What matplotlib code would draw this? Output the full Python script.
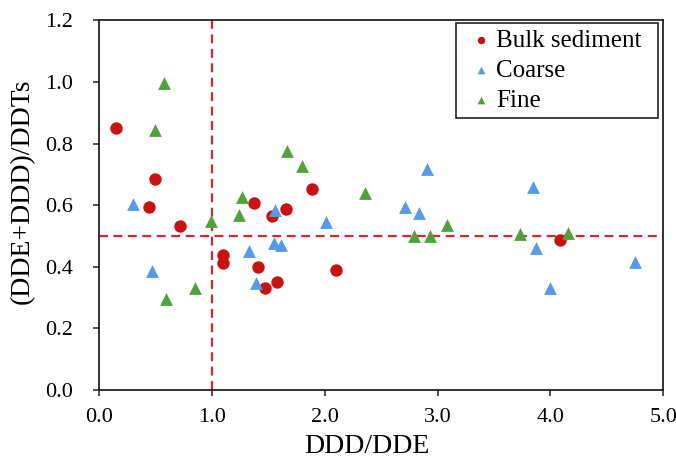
import matplotlib
matplotlib.use("Agg")
import matplotlib.pyplot as plt

plt.rcParams["font.family"] = ["Liberation Serif", "DejaVu Serif"]

# DDD/DDE vs (DDE+DDD)/DDTs
bulk_x = [0.15, 0.50, 0.44, 0.72, 1.10, 1.10, 1.37, 1.53, 1.66, 1.89, 1.41, 1.47, 1.58, 2.10, 4.09]
bulk_y = [0.85, 0.685, 0.595, 0.533, 0.439, 0.413, 0.606, 0.565, 0.588, 0.652, 0.401, 0.330, 0.352, 0.389, 0.486]

coarse_x = [0.30, 0.47, 1.33, 1.39, 1.55, 1.61, 1.56, 2.01, 2.71, 2.84, 2.91, 3.85, 3.87, 4.00, 4.75]
coarse_y = [0.604, 0.385, 0.452, 0.346, 0.476, 0.472, 0.583, 0.545, 0.594, 0.576, 0.718, 0.658, 0.461, 0.330, 0.416]

fine_x = [0.58, 0.50, 0.59, 0.85, 0.99, 1.24, 1.27, 1.67, 1.80, 2.36, 2.79, 2.93, 3.08, 3.73, 4.16]
fine_y = [0.995, 0.843, 0.295, 0.330, 0.548, 0.569, 0.627, 0.775, 0.728, 0.640, 0.499, 0.500, 0.535, 0.505, 0.509]

x_ticks = [0.0, 1.0, 2.0, 3.0, 4.0, 5.0]
y_ticks = [0.0, 0.2, 0.4, 0.6, 0.8, 1.0, 1.2]

fig = plt.figure(figsize=(6.76, 4.59), dpi=100)
ax = fig.add_axes([0.1465, 0.150, 0.8345, 0.806])

ref_color = '#D9262B'
ax.axvline(1.0, color=ref_color, linestyle=(0, (4, 2.5)), linewidth=1.6, zorder=1)
ax.axhline(0.5, color=ref_color, linestyle=(0, (4, 2.5)), linewidth=1.6, zorder=1)

ax.scatter(bulk_x, bulk_y, s=80, marker='o', color='#CC1111', label='Bulk sediment', zorder=3, linewidths=0)
ax.scatter(coarse_x, coarse_y, s=85, marker='^', color='#559BEA', label='Coarse', zorder=3, linewidths=0)
ax.scatter(fine_x, fine_y, s=85, marker='^', color='#4EA23A', label='Fine', zorder=3, linewidths=0)

ax.set_xlim(0, 5.0)
ax.set_ylim(0, 1.2)
ax.set_xticks(x_ticks)
ax.set_yticks(y_ticks)
ax.set_xticklabels(['%.1f' % v for v in x_ticks])
ax.set_yticklabels(['%.1f' % v for v in y_ticks])
ax.tick_params(direction='out', length=4.5, width=1.1, labelsize=16, color='#222222')
ax.tick_params(axis='x', pad=8)
ax.tick_params(axis='y', pad=14)

for sp in ax.spines.values():
    sp.set_linewidth(1.3)
    sp.set_color('#222222')

ax.set_xlabel('DDD/DDE', fontsize=20)
ax.set_ylabel('(DDE+DDD)/DDTs', fontsize=20)
ax.xaxis.set_label_coords(0.475, -0.118)
ax.yaxis.set_label_coords(-0.113, 0.538)

# legend box stretched to the reference width, entries left aligned
lgd = ax.legend(loc='upper right', bbox_to_anchor=(0.633, 0, 0.358, 0.992), mode='expand',
                fontsize=18, markerscale=0.6, handletextpad=-0.15,
                labelspacing=0.3, borderpad=0.25, handlelength=1.5, fancybox=False,
                framealpha=1, edgecolor='#222222', borderaxespad=0)
lgd.get_frame().set_linewidth(1.2)

fig.savefig('out.png', dpi=100)
